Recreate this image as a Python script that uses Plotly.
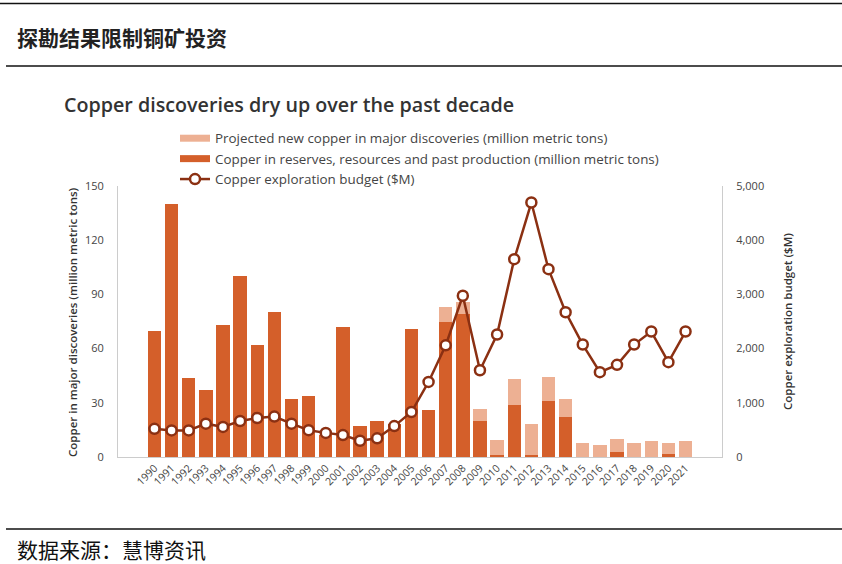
import plotly.graph_objects as go

# data
years = [str(y) for y in range(1990, 2022)]

reserves = [70, 140, 44, 37, 73, 100, 62, 80, 32, 34, 12, 72, 17, 20, 18, 71,
            26, 75, 79, 20, 1, 29, 1, 31, 22, 0, 0, 3, 0, 0, 1.5, 0]

projected = [0, 0, 0, 0, 0, 0, 0, 0, 0, 0, 0, 0, 0, 0, 0, 0,
             0, 8, 7, 6.5, 8.5, 14, 17.5, 13.5, 10, 7.5, 6.4, 6.7, 7.5, 8.6, 6.4, 8.6]

budget = [520, 490, 490, 615, 555, 665, 720, 745, 615, 495, 445, 405, 300, 345,
          570, 830, 1385, 2060, 2975, 1600, 2260, 3650, 4695, 3465, 2670, 2075,
          1565, 1700, 2075, 2315, 1750, 2315]

left_ticks = [0, 30, 60, 90, 120, 150]
right_ticks = [0, 1000, 2000, 3000, 4000, 5000]

DARK = "#D45F2A"
LIGHT = "#EDB093"
LINE = "#8B3012"
FONT = "Open Sans"
CJK = "Noto Sans CJK SC"

# plot area in pixels (used to place the page furniture)
W, H = 842, 564
L, R, T, B = 118, 722, 186, 457


def px_x(x):
    return (x - L) / (R - L)


def px_y(y):
    return (B - y) / (B - T)


fig = go.Figure()

fig.add_trace(go.Bar(x=years, y=reserves, marker=dict(color=DARK, line_width=0),
                     showlegend=False, hoverinfo="x+y"))
fig.add_trace(go.Bar(x=years, y=projected, marker=dict(color=LIGHT, line_width=0),
                     showlegend=False, hoverinfo="x+y"))
fig.add_trace(go.Scatter(x=years, y=budget, yaxis="y2", mode="lines+markers",
                         line=dict(color=LINE, width=2.5),
                         marker=dict(size=10, color="white", line=dict(color=LINE, width=2.5)),
                         name="Copper exploration budget ($M)", legendrank=3))

# legend swatches drawn as thick lines so they look like the wide bars in the source
fig.add_trace(go.Scatter(x=[None], y=[None], mode="lines", line=dict(color=LIGHT, width=7),
                         name="Projected new copper in major discoveries (million metric tons)",
                         legendrank=1))
fig.add_trace(go.Scatter(x=[None], y=[None], mode="lines", line=dict(color=DARK, width=7),
                         name="Copper in reserves, resources and past production (million metric tons)",
                         legendrank=2))

fig.update_layout(
    width=W,
    height=H,
    barmode="stack",
    bargap=0.22,
    paper_bgcolor="white",
    plot_bgcolor="white",
    margin=dict(l=L, r=W - R, t=T, b=H - B, pad=0),
    font=dict(family=FONT, color="#444444", size=11),
    legend=dict(
        x=px_x(175), y=px_y(123), xanchor="left", yanchor="top",
        bgcolor="rgba(0,0,0,0)", font=dict(size=13.4, color="#444444"),
        itemwidth=30, traceorder="normal", tracegroupgap=0,
    ),
    xaxis=dict(
        type="category", tickangle=-45, tickfont=dict(size=10.5, color="#444444"),
        showline=True, linecolor="#cccccc", linewidth=1, ticks="", showgrid=False,
    ),
    yaxis=dict(
        range=[0, 150], tickvals=left_ticks, showgrid=False, zeroline=False,
        showline=True, linecolor="#cccccc", linewidth=1,
        ticks="outside", ticklen=11, tickcolor="rgba(0,0,0,0)",
        tickfont=dict(size=11, color="#444444"),
    ),
    yaxis2=dict(
        range=[0, 5000], tickvals=right_ticks, tickformat=",", overlaying="y",
        side="right", showgrid=False, zeroline=False,
        showline=True, linecolor="#cccccc", linewidth=1,
        ticks="outside", ticklen=11, tickcolor="rgba(0,0,0,0)",
        tickfont=dict(size=11, color="#444444"),
    ),
    hovermode="x",
)

# page furniture: rules
for y0, x0 in [(3.5, 0), (66, 6), (529, 6)]:
    fig.add_shape(type="line", xref="paper", yref="paper",
                  x0=px_x(x0), x1=px_x(W), y0=px_y(y0), y1=px_y(y0),
                  line=dict(color="#111111", width=1.3))

fig.add_annotation(text="<b>探勘结果限制铜矿投资</b>", xref="paper", yref="paper",
                   x=px_x(15), y=px_y(37), xanchor="left", yanchor="middle",
                   showarrow=False, font=dict(family=CJK, size=21, color="#222222"))
fig.add_annotation(text="数据来源：慧博资讯", xref="paper", yref="paper",
                   x=px_x(15), y=px_y(549), xanchor="left", yanchor="middle",
                   showarrow=False, font=dict(family=CJK, size=21, color="#111111"))
fig.add_annotation(text="Copper discoveries dry up over the past decade", xref="paper", yref="paper",
                   x=px_x(62), y=px_y(104), xanchor="left", yanchor="middle",
                   showarrow=False, font=dict(family=FONT, size=19.7, color="#333333", weight=600))

# axis titles
fig.add_annotation(text="Copper in major discoveries (million metric tons)", xref="paper", yref="paper",
                   x=px_x(72), y=px_y(322), xanchor="center", yanchor="middle", textangle=-90,
                   showarrow=False, font=dict(family=FONT, size=11.5, color="#333333", weight=600))
fig.add_annotation(text="Copper exploration budget ($M)", xref="paper", yref="paper",
                   x=px_x(787), y=px_y(322), xanchor="center", yanchor="middle", textangle=-90,
                   showarrow=False, font=dict(family=FONT, size=11.5, color="#333333", weight=600))

# the default page has an 8px body margin; drop it so the figure sits at the window corner
fig.write_html("out.html", config={"displayModeBar": False},
               post_script="document.body.style.margin = '0px';")
